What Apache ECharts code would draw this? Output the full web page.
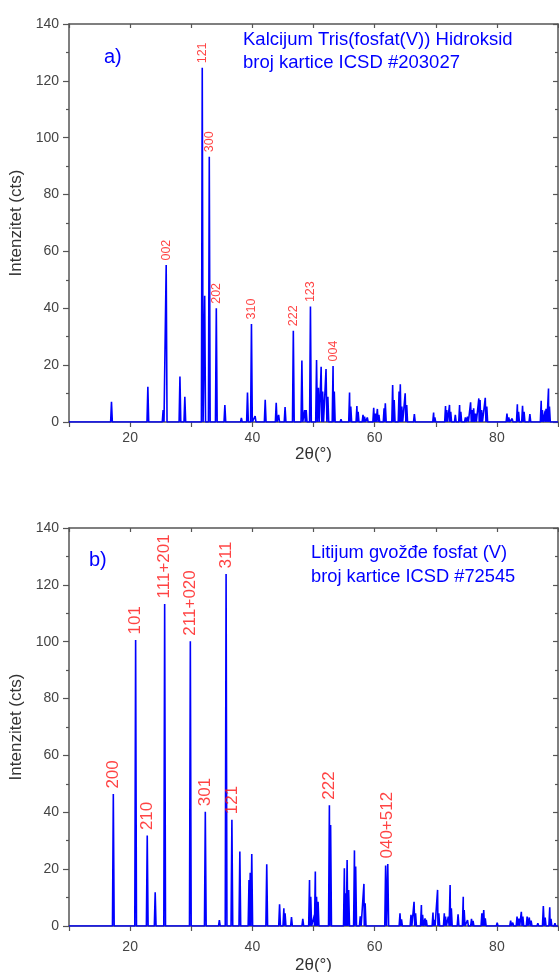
<!DOCTYPE html>
<html>
<head>
<meta charset="utf-8">
<script src="https://cdn.jsdelivr.net/npm/echarts@6/dist/echarts.min.js"></script>
<style>
  html, body { margin: 0; padding: 0; background: #ffffff; }
  #chart { width: 559px; height: 972px; }
</style>
</head>
<body>
<div id="chart"></div>
<script>
// a) Kalcijum tris(fosfat(V)) hidroksid, ICSD #203027 — reflection positions (2θ, °) and intensities (cts)
const hapTheta = [16.95, 21.8, 22.9, 25.4, 25.9, 28.15, 28.95, 31.8, 32.2, 32.95, 34.1, 35.5, 38.2, 39.2, 39.85,
  40.45, 42.1, 43.9, 44.3, 45.35, 46.7, 48.1, 48.55, 48.8, 49.5, 50.5, 50.8, 51.25, 51.5, 52.05, 52.35, 53.2, 53.4,
  54.5, 55.9, 56.1, 57.1, 57.3, 58.1, 58.35, 58.8, 59.85, 60.1, 60.45, 60.7, 61.55, 61.75, 62.95, 63.2, 64.0, 64.2,
  64.45, 65.0, 65.25, 66.5, 68.45, 68.9, 69.65, 69.85, 71.6, 71.8, 72.25, 72.45, 73.2, 73.9, 74.1, 74.85, 75.2,
  75.7, 75.95, 76.2, 76.5, 77.05, 77.25, 77.5, 78.1, 78.35, 80.75, 81.65, 81.95, 82.5, 83.35, 83.55, 84.2, 84.45,
  85.4, 87.25, 87.45, 87.9, 88.05, 88.45, 88.6];
const hapIntensity = [7.1, 0.6, 12.4, 4.2, 55.2, 16.0, 8.9, 124.6, 44.4, 93.3, 40.0, 6.0, 1.4, 10.4, 34.5,
  2.1, 7.8, 6.8, 2.5, 5.3, 32.1, 21.6, 4.2, 4.2, 40.6, 21.8, 12.0, 19.4, 10.7, 18.6, 8.9, 19.7, 10.7,
  1.0, 10.4, 5.4, 5.6, 3.6, 2.5, 1.9, 1.6, 5.0, 3.0, 4.6, 2.5, 4.8, 6.6, 13.0, 7.7, 10.7, 13.3,
  5.4, 10.1, 6.0, 2.8, 0.7, 0.7, 3.3, 1.6, 5.6, 4.2, 6.0, 3.6, 2.5, 6.0, 3.6, 1.6, 1.9,
  6.9, 4.2, 4.8, 3.0, 8.3, 7.7, 4.2, 8.5, 5.4, 0.7, 3.0, 1.6, 1.2, 6.2, 3.6, 5.7, 3.6,
  2.8, 7.5, 4.2, 4.0, 4.6, 11.8, 5.4];
const hapHklTheta = [25.9, 31.8, 32.95, 34.1, 39.85, 46.7, 49.5, 53.2];
const hapHkl = ['002', '121', '300', '202', '310', '222', '123', '004'];

// b) Litijum gvožđe fosfat (V), ICSD #72545
const lfpTheta = [17.25, 20.9, 22.8, 24.1, 25.65, 29.85, 32.3, 34.6, 35.7, 36.65, 37.95, 39.45, 39.65, 39.9,
  42.35, 44.45, 45.15, 45.35, 46.4, 48.25, 49.35, 49.55, 50.15, 50.3, 50.5, 50.75, 52.6, 52.8, 55.05, 55.25,
  55.5, 55.75, 56.7, 56.9, 57.65, 58.25, 58.45, 61.8, 62.15, 64.15, 64.4, 65.95, 66.45, 66.7, 67.65, 67.85,
  68.25, 68.45, 69.55, 69.75, 70.3, 70.5, 71.4, 71.6, 72.05, 72.35, 72.55, 73.65, 74.5, 74.65, 75.2, 75.85,
  76.1, 77.55, 77.85, 78.1, 80.05, 82.25, 82.6, 83.3, 83.6, 84.0, 84.25, 84.95, 85.3, 85.6, 86.7, 87.6, 87.9,
  88.65, 88.85, 89.5];
const lfpIntensity = [46.4, 100.6, 31.8, 11.9, 113.3, 100.2, 40.2, 2.1, 123.8, 37.4, 26.2, 16.2, 18.7, 25.3,
  21.7, 7.6, 6.2, 4.5, 3.1, 2.5, 16.2, 10.3, 3.9, 19.2, 10.3, 8.5, 42.5, 35.5, 20.3, 11.5,
  23.2, 12.7, 26.6, 20.9, 3.4, 14.8, 8.0, 21.3, 21.8, 4.5, 2.3, 3.9, 8.5, 4.5, 7.4, 3.9,
  2.7, 2.2, 4.7, 2.2, 12.7, 4.5, 4.5, 3.3, 3.3, 14.4, 6.2, 4.1, 10.3, 5.6, 2.1, 2.5,
  1.8, 4.5, 5.6, 2.7, 1.2, 1.9, 1.2, 3.3, 2.6, 5.0, 3.3, 3.3, 3.0, 1.9, 1.0, 7.0, 3.0,
  6.6, 2.5, 1.0];
const lfpHklTheta = [17.25, 20.9, 22.8, 25.65, 29.85, 32.3, 35.7, 36.65, 52.6, 62.15];
const lfpHkl = ['200', '101', '210', '111+201', '211+020', '301', '311', '121', '222', '040+512'];

// axis ranges and tick steps
const thetaRange = [10, 90];
const thetaStep = 10;
const thetaLabelStep = 20;
const intensityRange = [0, 140];
const intensityStep = 20;

const FONT = '"Liberation Sans", Arial, Helvetica, sans-serif';
const BLUE = '#0000ff';
const RED = '#ff1414';
const AXIS = '#555555';

// each reflection becomes a narrow peak on a zero background
function pattern(theta, intensity) {
  const pts = [[thetaRange[0], 0], [thetaRange[1], 0]];
  theta.forEach((t, i) => {
    pts.push([t - 0.14, 0], [t, intensity[i]], [t + 0.14, 0]);
  });
  return pts.sort((a, b) => a[0] - b[0]);
}

// Miller-index labels sit on the top of their reflection
function hklPoints(hklTheta, hkl, theta, intensity) {
  return hklTheta.map((t, i) => {
    const k = theta.indexOf(t);
    return [t, intensity[k], hkl[i]];
  });
}

function bottomAxis(grid, labelMargin, nameGap) {
  return {
    gridIndex: grid, type: 'value', position: 'bottom',
    min: thetaRange[0], max: thetaRange[1], interval: thetaStep,
    axisLine: { show: true, onZero: false, lineStyle: { color: AXIS, width: 1.5 } },
    axisTick: { show: true, length: 5, lineStyle: { color: AXIS, width: 1.2 } },
    axisLabel: {
      color: '#444', fontSize: 14, fontFamily: FONT, margin: labelMargin,
      formatter: v => (v % thetaLabelStep === 0 && v > thetaRange[0] && v < thetaRange[1]) ? String(v) : ''
    },
    splitLine: { show: false },
    name: '2θ(°)', nameLocation: 'middle', nameGap: nameGap,
    nameTextStyle: { color: '#333', fontSize: 17, fontFamily: FONT }
  };
}

function topAxis(grid) {
  return {
    gridIndex: grid, type: 'value', position: 'top',
    min: thetaRange[0], max: thetaRange[1], interval: thetaStep,
    axisLine: { show: true, onZero: false, lineStyle: { color: AXIS, width: 1.5 } },
    axisTick: { show: true, inside: true, length: 4, lineStyle: { color: AXIS, width: 1.2 } },
    axisLabel: { show: false },
    splitLine: { show: false }
  };
}

function leftAxis(grid) {
  return {
    gridIndex: grid, type: 'value', position: 'left',
    min: intensityRange[0], max: intensityRange[1], interval: intensityStep,
    axisLine: { show: true, onZero: false, lineStyle: { color: AXIS, width: 1.5 } },
    axisTick: { show: true, length: 6, lineStyle: { color: AXIS, width: 1.2 } },
    minorTick: { show: true, splitNumber: 2, length: 3, lineStyle: { color: AXIS, width: 1.2 } },
    axisLabel: { color: '#444', fontSize: 14, fontFamily: FONT, margin: 10 },
    splitLine: { show: false }, minorSplitLine: { show: false },
    name: 'Intenzitet (cts)', nameLocation: 'middle', nameGap: 42, nameRotate: 90,
    nameTextStyle: { color: '#333', fontSize: 17, fontFamily: FONT }
  };
}

function rightAxis(grid) {
  return {
    gridIndex: grid, type: 'value', position: 'right',
    min: intensityRange[0], max: intensityRange[1], interval: intensityStep,
    axisLine: { show: true, onZero: false, lineStyle: { color: AXIS, width: 1.5 } },
    axisTick: { show: true, inside: true, length: 5, lineStyle: { color: AXIS, width: 1.2 } },
    minorTick: { show: true, splitNumber: 2, length: 3, lineStyle: { color: AXIS, width: 1.2 } },
    axisLabel: { show: false },
    splitLine: { show: false }, minorSplitLine: { show: false }
  };
}

function patternSeries(axisX, axisY, theta, intensity) {
  return {
    type: 'line', xAxisIndex: axisX, yAxisIndex: axisY,
    data: pattern(theta, intensity),
    showSymbol: false, symbol: 'none', sampling: null, smooth: false,
    lineStyle: { color: BLUE, width: 1.6 },
    z: 3
  };
}

function hklSeries(axisX, axisY, pts, fontSize, distance) {
  return {
    type: 'scatter', xAxisIndex: axisX, yAxisIndex: axisY,
    data: pts, symbolSize: 1,
    itemStyle: { color: 'rgba(0,0,0,0)' },
    label: {
      show: true, position: 'top', distance: distance, rotate: 90,
      align: 'left', verticalAlign: 'middle',
      color: RED, fontSize: fontSize, fontFamily: FONT,
      formatter: p => p.data[2]
    },
    z: 4
  };
}

const chart = echarts.init(document.getElementById('chart'), null, { renderer: 'canvas' });
chart.setOption({
  animation: false,
  backgroundColor: '#ffffff',
  grid: [
    { left: 69, top: 24, width: 489, height: 398, outerBoundsMode: 'none' },
    { left: 69, top: 528, width: 489, height: 398, outerBoundsMode: 'none' }
  ],
  xAxis: [bottomAxis(0, 9, 21), topAxis(0), bottomAxis(1, 14, 31), topAxis(1)],
  yAxis: [leftAxis(0), rightAxis(0), leftAxis(1), rightAxis(1)],
  series: [
    patternSeries(0, 0, hapTheta, hapIntensity),
    hklSeries(0, 0, hklPoints(hapHklTheta, hapHkl, hapTheta, hapIntensity), 12.5, 4),
    patternSeries(2, 2, lfpTheta, lfpIntensity),
    hklSeries(2, 2, hklPoints(lfpHklTheta, lfpHkl, lfpTheta, lfpIntensity), 17, 5)
  ],
  graphic: [
    { type: 'text', left: 104, top: 47, style: { text: 'a)', fill: BLUE, font: '20px ' + FONT } },
    { type: 'text', left: 243, top: 28, style: {
        text: 'Kalcijum Tris(fosfat(V)) Hidroksid\nbroj kartice ICSD #203027',
        fill: BLUE, font: '18.5px ' + FONT, lineHeight: 23 } },
    { type: 'text', left: 89, top: 550, style: { text: 'b)', fill: BLUE, font: '20px ' + FONT } },
    { type: 'text', left: 311, top: 541, style: {
        text: 'Litijum gvožđe fosfat (V)\nbroj kartice ICSD #72545',
        fill: BLUE, font: '18.3px ' + FONT, lineHeight: 24 } }
  ]
});
</script>
</body>
</html>
